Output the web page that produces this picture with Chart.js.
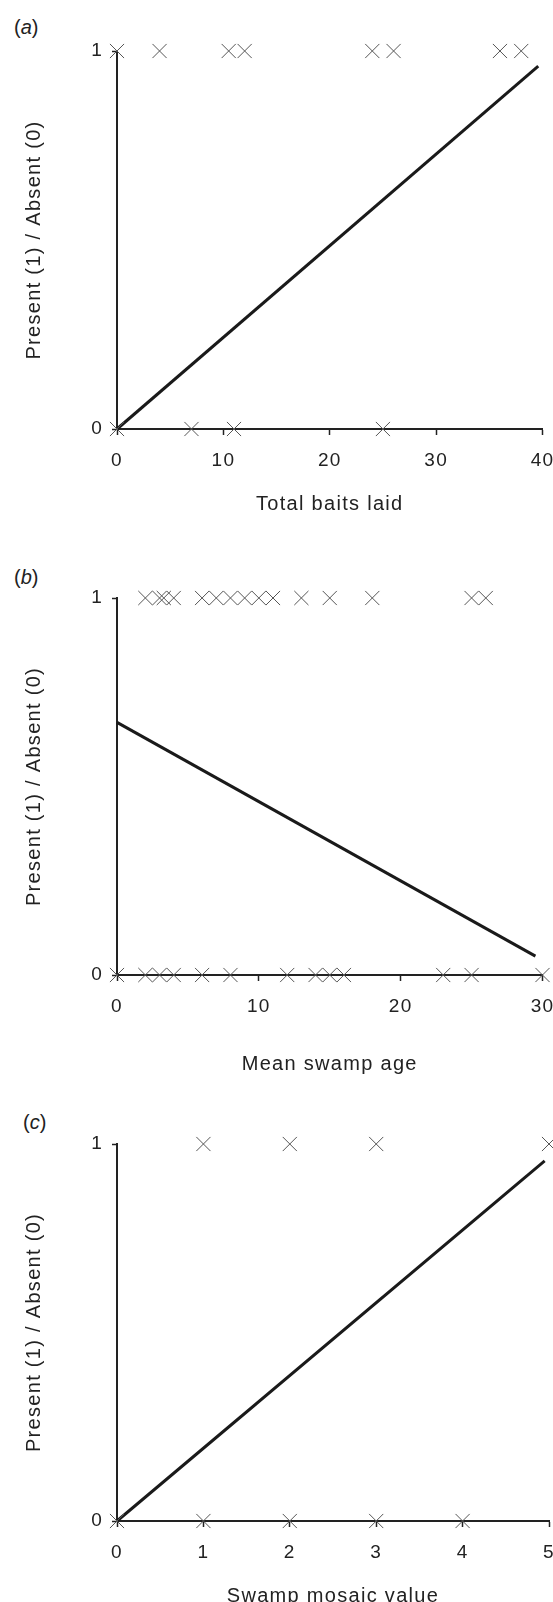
<!DOCTYPE html>
<html>
<head>
<meta charset="utf-8">
<script src="https://cdn.jsdelivr.net/npm/chart.js@4.4.1/dist/chart.umd.min.js"></script>
<style>
  html, body { margin: 0; padding: 0; background: #fff; overflow: hidden; }
  body { width: 553px; height: 1602px; position: relative; font-family: 'Liberation Sans', Arial, sans-serif; }
  .panel { position: absolute; left: 0; }
  .panel canvas { display: block; }
  .tag { position: absolute; font-size: 20px; color: #222; line-height: 22px; }
</style>
</head>
<body>
<div class="tag" style="left:14px;top:16px">(<i>a</i>)</div>
<div class="tag" style="left:14px;top:566px">(<i>b</i>)</div>
<div class="tag" style="left:23px;top:1111px">(<i>c</i>)</div>

<div class="panel" style="top:0px"><canvas id="chartA" width="553" height="519"></canvas></div>
<div class="panel" style="top:547px"><canvas id="chartB" width="553" height="532"></canvas></div>
<div class="panel" style="top:1093px"><canvas id="chartC" width="553" height="518"></canvas></div>

<script>
// (a) total baits laid
const baitsPresent = [0, 4, 10.5, 12, 24, 26, 36, 38];
const baitsAbsent = [0, 7, 11, 25];
const baitsFitX = [0, 39.6];
const baitsFitY = [0, 0.96];

// (b) mean swamp age
const agePresent = [2, 3, 3.3, 4, 6, 7, 8, 9, 10, 11, 13, 15, 18, 25, 26];
const ageAbsent = [0, 2, 3, 4, 6, 8, 12, 14, 15, 16, 23, 25, 30];
const ageFitX = [0, 29.5];
const ageFitY = [0.67, 0.05];

// (c) swamp mosaic value
const mosaicPresent = [1, 2, 3, 5];
const mosaicAbsent = [0, 1, 2, 3, 4];
const mosaicFitX = [0, 4.95];
const mosaicFitY = [0, 0.955];

const yTickLabels = ['0', '1'];

const fontFamily = "'Liberation Sans', Arial, sans-serif";
const ink = '#222';

function pts(xs, yval) {
    return xs.map(x => ({ x: x, y: yval }));
}

function pairs(xs, ys) {
    return xs.map((x, i) => ({ x: x, y: ys[i] }));
}

function makeChart(id, opt) {
    const ctx = document.getElementById(id).getContext('2d');
    return new Chart(ctx, {
        type: 'scatter',
        data: {
            datasets: [
                {
                    label: 'Present',
                    data: pts(opt.present, 1),
                    pointStyle: 'crossRot',
                    pointRadius: 10,
                    borderColor: '#555',
                    borderWidth: 1,
                    clip: false
                },
                {
                    label: 'Absent',
                    data: pts(opt.absent, 0),
                    pointStyle: 'crossRot',
                    pointRadius: 10,
                    borderColor: '#555',
                    borderWidth: 1,
                    clip: false
                },
                {
                    label: 'Fit',
                    data: pairs(opt.fitX, opt.fitY),
                    showLine: true,
                    pointRadius: 0,
                    borderColor: '#1a1a1a',
                    borderWidth: 3,
                    clip: false
                }
            ]
        },
        options: {
            responsive: false,
            animation: false,
            layout: {
                autoPadding: false,
                padding: { top: 51, right: opt.padRight, left: 0, bottom: 0 }
            },
            plugins: {
                legend: { display: false },
                tooltip: { enabled: false }
            },
            scales: {
                x: {
                    type: 'linear',
                    min: 0,
                    max: opt.xMax,
                    afterFit: s => {
                        s.height = opt.xHeight;
                        s.paddingLeft = 0;
                        s.paddingRight = 0;
                    },
                    ticks: {
                        stepSize: opt.xStep,
                        color: ink,
                        padding: 14,
                        maxRotation: 0,
                        font: { family: fontFamily, size: 19 }
                    },
                    grid: { drawOnChartArea: false, tickLength: 6, tickWidth: 1.5, tickColor: ink },
                    border: { display: true, color: ink, width: 2 },
                    title: {
                        display: true,
                        text: opt.xTitle,
                        color: ink,
                        font: { family: fontFamily, size: 20 },
                        padding: { top: 0, bottom: 3 }
                    }
                },
                y: {
                    type: 'linear',
                    min: 0,
                    max: 1,
                    afterFit: s => { s.width = 117; },
                    ticks: {
                        stepSize: 1,
                        color: ink,
                        padding: 9,
                        font: { family: fontFamily, size: 19 },
                        callback: v => yTickLabels[v]
                    },
                    grid: { drawOnChartArea: false, tickLength: 5, tickWidth: 1.5, tickColor: ink },
                    border: { display: true, color: ink, width: 2 },
                    title: {
                        display: true,
                        text: 'Present (1) / Absent (0)',
                        color: ink,
                        font: { family: fontFamily, size: 20 },
                        padding: { top: 22, bottom: 0 }
                    }
                }
            }
        },
        plugins: [{
            id: 'spacing',
            beforeDraw: c => { c.ctx.letterSpacing = '1.3px'; }
        }]
    });
}

makeChart('chartA', {
    present: baitsPresent, absent: baitsAbsent,
    fitX: baitsFitX, fitY: baitsFitY,
    xMax: 40, xStep: 10, padRight: 10.5, xHeight: 90,
    xTitle: 'Total baits laid'
});

makeChart('chartB', {
    present: agePresent, absent: ageAbsent,
    fitX: ageFitX, fitY: ageFitY,
    xMax: 30, xStep: 10, padRight: 10.5, xHeight: 104,
    xTitle: 'Mean swamp age'
});

makeChart('chartC', {
    present: mosaicPresent, absent: mosaicAbsent,
    fitX: mosaicFitX, fitY: mosaicFitY,
    xMax: 5, xStep: 1, padRight: 4, xHeight: 90,
    xTitle: 'Swamp mosaic value'
});
</script>
</body>
</html>
